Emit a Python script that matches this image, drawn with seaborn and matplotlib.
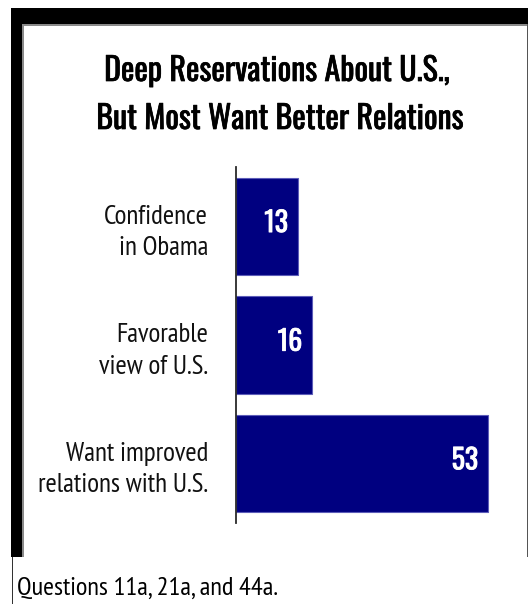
import matplotlib
matplotlib.use("Agg")
import matplotlib.pyplot as plt
import matplotlib.patheffects as pe
from matplotlib.patches import Rectangle
import seaborn as sns
import pandas as pd

# Survey results (percent)
categories = ["Confidence\nin Obama", "Favorable\nview of U.S.", "Want improved\nrelations with U.S."]
values = [13, 16, 53]
title_lines = ["Deep Reservations About U.S.,", "But Most Want Better Relations"]
footnote = "Questions 11a, 21a, and 44a."

W, H = 528, 604
sns.set_theme(style="white")
plt.rcParams["font.family"] = ["PT Sans Narrow", "DejaVu Sans"]
HEAD_FONT = ["Oswald", "DejaVu Sans"]

fig = plt.figure(figsize=(W / 100, H / 100), dpi=100, facecolor="white")


def px(x0, y0, x1, y1):
    """Box given in pixels from the top-left corner -> figure fractions."""
    return x0 / W, 1 - y1 / H, (x1 - x0) / W, (y1 - y0) / H


# frame around the chart panel
for (x0, y0, x1, y1, c) in [
    (11, 8, 528, 24, "black"),
    (22, 24, 527, 25.5, "#8a8a8a"),
    (11, 8, 22, 557, "black"),
    (22, 24, 23.5, 557, "#8a8a8a"),
    (526.5, 24, 528, 557, "#555555"),
    (12, 557, 13.2, 604, "#333333"),
]:
    l, b, w, h = px(x0, y0, x1, y1)
    fig.patches.append(Rectangle((l, b), w, h, transform=fig.transFigure,
                                 facecolor=c, edgecolor="none", zorder=0))

ax = fig.add_axes(px(236, 167, 521, 523))
df = pd.DataFrame({"category": categories, "value": values})
sns.barplot(data=df, x="value", y="category", orient="h", ax=ax,
            color="#000080", saturation=1, width=0.82,
            edgecolor="#5c5cb8", linewidth=0.8)

ax.set_xlim(0, 60)
ax.set_ylim(2.5, -0.5)
ax.set_xlabel("")
ax.set_ylabel("")
ax.set_xticks([])
ax.set_facecolor("none")
for side in ["top", "right", "bottom"]:
    ax.spines[side].set_visible(False)
ax.spines["left"].set_color("#2a2a2a")
ax.spines["left"].set_linewidth(1.3)
ax.tick_params(axis="y", length=0, pad=20, labelsize=19.5, colors="#111111")
for lab in ax.get_yticklabels():
    lab.set_linespacing(1.37)
    lab.set_horizontalalignment("right")

# value labels inside the bar ends (stroked to look heavier)
for i, v in enumerate(values):
    ax.annotate(f"{v}", xy=(v, i), xytext=(-7, 2), textcoords="offset points",
                ha="right", va="center", color="white", fontsize=20,
                family=HEAD_FONT,
                path_effects=[pe.withStroke(linewidth=0.6, foreground="white")])

# two-line heading
heavy = [pe.withStroke(linewidth=0.5, foreground="black")]
fig.text(277 / W, 1 - 71 / H, title_lines[0], ha="center", va="center",
         fontsize=23, family=HEAD_FONT, color="black", path_effects=heavy)
fig.text(280 / W, 1 - 119 / H, title_lines[1], ha="center", va="center",
         fontsize=23, family=HEAD_FONT, color="black", path_effects=heavy)

fig.text(17 / W, 1 - 595 / H, footnote, ha="left", va="baseline",
         fontsize=19, color="black")

fig.savefig("out.png", dpi=100, facecolor="white")
